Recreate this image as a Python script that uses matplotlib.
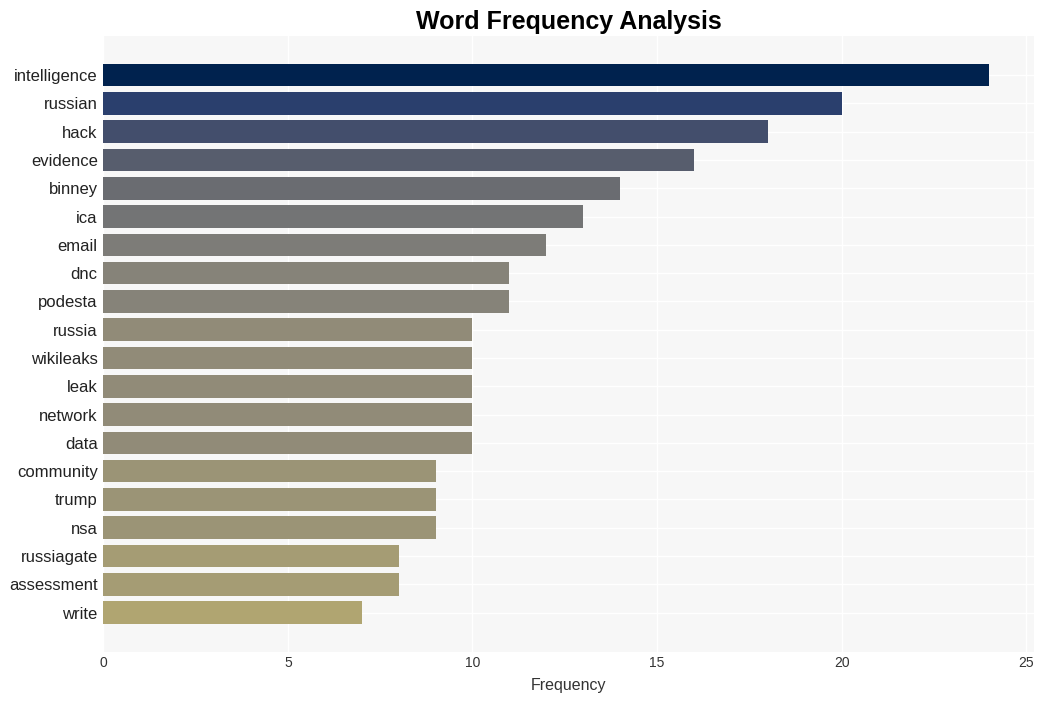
import numpy as np
import matplotlib.pyplot as plt

words = ["intelligence", "russian", "hack", "evidence", "binney", "ica", "email",
         "dnc", "podesta", "russia", "wikileaks", "leak", "network", "data",
         "community", "trump", "nsa", "russiagate", "assessment", "write"]
counts = [24, 20, 18, 16, 14, 13, 12, 11, 11, 10, 10, 10, 10, 10, 9, 9, 9, 8, 8, 7]

plt.rcParams["font.family"] = ["Liberation Sans", "DejaVu Sans"]

fig, ax = plt.subplots(figsize=(10.43, 7.01), dpi=100)
fig.subplots_adjust(left=0.099, right=0.991, top=0.949, bottom=0.07)

vals = np.array(counts)
colores = plt.cm.cividis(1 - vals / vals.max())
pos = np.arange(len(words))
ax.barh(pos, vals, color=colores, height=0.8, zorder=2)
ax.set_yticks(pos)
ax.set_yticklabels(words, fontsize=12, color="#222222")
ax.invert_yaxis()
ax.set_xlim(0, vals.max() * 1.05)

ax.set_facecolor("#f7f7f7")
ax.grid(True, color="white", linewidth=1, zorder=0)
ax.set_axisbelow(True)
for s in ax.spines.values():
    s.set_visible(False)
ax.tick_params(length=0)
ax.tick_params(axis="y", pad=4)
ax.tick_params(axis="x", labelsize=10, labelcolor="#333333", pad=3)

ax.set_xlabel("Frequency", fontsize=11.5, color="#333333", labelpad=6)
ax.set_title("Word Frequency Analysis", fontsize=18, fontweight="bold", pad=5)

fig.savefig("out.png", dpi=100, facecolor="white")
